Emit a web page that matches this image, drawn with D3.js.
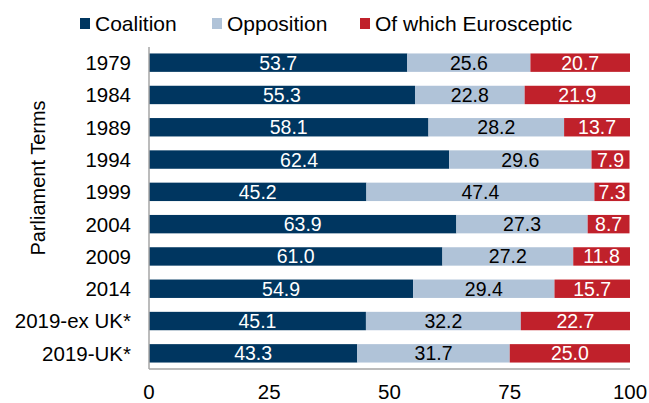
<!DOCTYPE html>
<html>
<head>
<meta charset="utf-8">
<script src="https://cdn.jsdelivr.net/npm/d3@7"></script>
<style>
  body { margin: 0; background: #fff; }
  text { font-family: "Liberation Sans", Arial, sans-serif; }
</style>
</head>
<body>
<svg id="svg" width="649" height="403"></svg>
<script>
const terms = ["1979", "1984", "1989", "1994", "1999", "2004", "2009", "2014", "2019-ex UK*", "2019-UK*"];
const coalition = [53.7, 55.3, 58.1, 62.4, 45.2, 63.9, 61.0, 54.9, 45.1, 43.3];
const opposition = [25.6, 22.8, 28.2, 29.6, 47.4, 27.3, 27.2, 29.4, 32.2, 31.7];
const eurosceptic = [20.7, 21.9, 13.7, 7.9, 7.3, 8.7, 11.8, 15.7, 22.7, 25.0];
const seriesNames = ["Coalition", "Opposition", "Of which Eurosceptic"];
const xTicks = [0, 25, 50, 75, 100];

const colors = ["#003660", "#b0c3d8", "#c0212b"];
const labelColors = ["#fff", "#000", "#fff"];

const svg = d3.select("#svg");
const plotLeft = 149, plotRight = 630, plotTop = 47, plotBottom = 369;

const x = d3.scaleLinear().domain([0, 100]).range([plotLeft, plotRight]);
const y = d3.scaleBand().domain(terms).range([plotTop, plotBottom]).paddingInner(0.43).paddingOuter(0.2);

const rows = terms.map((t, i) => ({ term: t, Coalition: coalition[i], Opposition: opposition[i], "Of which Eurosceptic": eurosceptic[i] }));
const stacked = d3.stack().keys(seriesNames)(rows);

stacked.forEach((layer, k) => {
  const g = svg.append("g");
  g.selectAll("rect")
    .data(layer)
    .join("rect")
    .attr("x", d => x(d[0]))
    .attr("y", d => y(d.data.term))
    .attr("width", d => x(d[1]) - x(d[0]))
    .attr("height", y.bandwidth())
    .attr("fill", colors[k]);
  g.selectAll("text")
    .data(layer)
    .join("text")
    .attr("x", d => (x(d[0]) + x(d[1])) / 2)
    .attr("y", d => y(d.data.term) + y.bandwidth() / 2)
    .attr("dy", "0.36em")
    .attr("text-anchor", "middle")
    .attr("font-size", 19.5)
    .attr("fill", labelColors[k])
    .text(d => (d[1] - d[0]).toFixed(1));
});

// axes lines
svg.append("line")
  .attr("x1", plotLeft).attr("x2", plotLeft).attr("y1", plotTop).attr("y2", plotBottom)
  .attr("stroke", "#a6a6a6").attr("stroke-width", 1.5);
svg.append("line")
  .attr("x1", plotLeft).attr("x2", plotRight).attr("y1", plotBottom).attr("y2", plotBottom)
  .attr("stroke", "#a6a6a6").attr("stroke-width", 1.5);

// category labels
svg.append("g").selectAll("text")
  .data(terms)
  .join("text")
  .attr("x", 131)
  .attr("y", d => y(d) + y.bandwidth() / 2)
  .attr("dy", "0.36em")
  .attr("text-anchor", "end")
  .attr("font-size", 20.5)
  .attr("fill", "#000")
  .text(d => d);

// x tick labels
svg.append("g").selectAll("text")
  .data(xTicks)
  .join("text")
  .attr("x", d => x(d))
  .attr("y", 399)
  .attr("text-anchor", "middle")
  .attr("font-size", 20.5)
  .attr("fill", "#000")
  .text(d => d);

// y title
svg.append("text")
  .attr("transform", "translate(45, 178) rotate(-90)")
  .attr("text-anchor", "middle")
  .attr("font-size", 20)
  .attr("fill", "#000")
  .text("Parliament Terms");

// legend
const legendX = [80, 212, 360];
const legend = svg.append("g");
seriesNames.forEach((name, k) => {
  legend.append("rect")
    .attr("x", legendX[k]).attr("y", 18)
    .attr("width", 10).attr("height", 11)
    .attr("fill", colors[k]);
  legend.append("text")
    .attr("x", legendX[k] + 15).attr("y", 23)
    .attr("dy", "0.36em")
    .attr("font-size", 21)
    .attr("fill", "#000")
    .text(name);
});
</script>
</body>
</html>
